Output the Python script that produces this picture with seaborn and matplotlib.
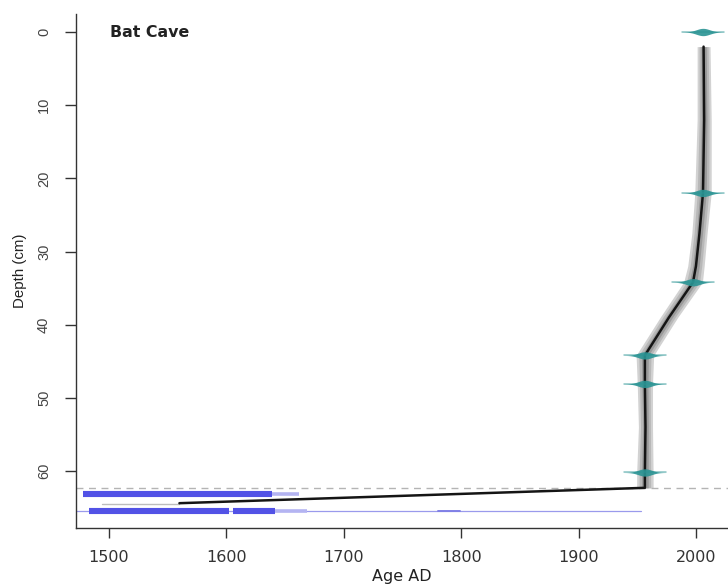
import numpy as np
import matplotlib
matplotlib.use("Agg")
import matplotlib.pyplot as plt
import seaborn as sns

# --- dated levels (depth in cm, mean age AD, 1-sigma in years) ---
date_depth = [0.0, 22.0, 34.2, 44.2, 48.1, 60.2]
date_age = [2006.0, 2006.0, 1997.5, 1956.5, 1956.5, 1956.5]
date_sd = [5.0, 5.0, 5.0, 5.0, 5.0, 5.0]

# --- age-depth model (mean age and half-width of the grey envelope) ---
model_depth = [2.0, 12.0, 22.0, 27.5, 32.0, 34.2, 39.0, 44.2, 48.1, 54.0, 60.2, 62.3]
model_age = [2006.5, 2007.0, 2006.0, 2003.0, 2000.0, 1997.5, 1977.0, 1956.5, 1956.5, 1957.0, 1956.5, 1956.5]
model_halfwidth = [5.5, 6.0, 7.0, 6.5, 7.0, 8.0, 7.5, 7.5, 6.5, 6.0, 7.0, 7.0]

# --- extrapolated section below the boundary ---
extrap_depth = [62.3, 64.4]
extrap_age = [1956.5, 1560.0]
tail_depth = 64.45
tail_age = [1494.0, 1560.0]

boundary_depth = 62.3

# --- calibrated radiocarbon ranges (depth, ranges as (from, to) AD) ---
c14_depth = [63.2, 65.5]
c14_hpd = [[(1478.0, 1638.5)], [(1483.0, 1602.0), (1606.0, 1641.5)]]
c14_outer = [[(1638.5, 1662.0)], [(1641.5, 1669.0)]]
c14_full = [None, (1472.0, 1953.0)]
c14_minor = [None, (1780.0, 1799.0)]

x_ticks = [1500, 1600, 1700, 1800, 1900, 2000]
y_ticks = [0, 10, 20, 30, 40, 50, 60]

sns.set_theme(style="white")
plt.rcParams["font.family"] = ["DejaVu Sans"]

fig = plt.figure(figsize=(7.28, 5.86), dpi=100)
ax = fig.add_axes([76 / 728, 58 / 586, 652 / 728, 514 / 586])

teal = "#2a9494"
blue = "#5252e6"
axis_col = "#333333"

# grey envelope around the model, shaded darker towards the mean
md = np.array(model_depth)
ma = np.array(model_age)
mh = np.array(model_halfwidth)
ax.fill_betweenx(md, ma - mh, ma + mh, color="#d2d2d2", lw=0, zorder=1)
ax.fill_betweenx(md, ma - 0.7 * mh, ma + 0.7 * mh, color="#b8b8b8", lw=0, zorder=1.1)
ax.fill_betweenx(md, ma - 0.4 * mh, ma + 0.4 * mh, color="#9a9a9a", lw=0, zorder=1.2)

# mean model line through the dated section and the extrapolation
line_age = model_age + extrap_age[1:]
line_depth = model_depth + extrap_depth[1:]
sns.lineplot(x=line_age, y=line_depth, sort=False, estimator=None,
             color="#151515", lw=1.8, ax=ax, zorder=3)
ax.plot(tail_age, [tail_depth, tail_depth], color="#bdbdbd", lw=1.0, zorder=2)

# boundary depth
ax.axhline(boundary_depth, color="#b4b4b4", lw=1.0, ls=(0, (5, 4)), zorder=1)

# dated levels drawn as symmetric density shapes
for d, m, s in zip(date_depth, date_age, date_sd):
    xs = np.linspace(m - 3.6 * s, m + 3.6 * s, 200)
    dens = np.exp(-0.5 * ((xs - m) / (1.15 * s)) ** 2)
    ax.fill_between(xs, d - 0.5 * dens, d + 0.5 * dens, color=teal,
                    alpha=0.9, lw=0, zorder=4)
    ax.plot([xs[0], xs[-1]], [d, d], color=teal, alpha=0.55, lw=1.1, zorder=4)

# calibrated radiocarbon ranges
for d, hpd, outer, full, minor in zip(c14_depth, c14_hpd, c14_outer, c14_full, c14_minor):
    if full is not None:
        ax.plot(full, [d, d], color="#9a9aec", lw=0.9, zorder=2)
    if minor is not None:
        ax.plot(minor, [d, d], color="#8080e6", lw=1.4, zorder=2)
    for a, b in outer:
        ax.plot([a, b], [d, d], color="#b4b4f2", lw=2.6, solid_capstyle="butt", zorder=2)
    for a, b in hpd:
        ax.plot([a, b], [d, d], color=blue, lw=4.4, solid_capstyle="butt", zorder=2.5)

ax.set_xlim(1471.9, 2027.3)
ax.set_ylim(67.79, -2.46)
ax.set_xticks(x_ticks)
ax.set_yticks(y_ticks)

for side in ["top", "right"]:
    ax.spines[side].set_visible(False)
for side in ["left", "bottom"]:
    ax.spines[side].set_color(axis_col)
    ax.spines[side].set_linewidth(1.0)

ax.tick_params(axis="x", direction="out", length=7, width=1.0, color=axis_col,
               labelsize=11.5, labelcolor="#333333", pad=9, bottom=True)
ax.tick_params(axis="y", direction="out", length=8, width=1.0, color=axis_col,
               labelsize=10.5, labelcolor="#444444", pad=10, left=True, labelrotation=90)
for lab in ax.get_yticklabels():
    lab.set_fontfamily(["Liberation Sans", "DejaVu Sans"])
    lab.set_va("center")

ax.set_xlabel("Age AD", fontsize=11.5, color="#222222", labelpad=3)
ax.set_ylabel("Depth (cm)", fontsize=10.8, color="#222222", labelpad=7,
              family=["Liberation Sans", "DejaVu Sans"])
ax.grid(False)

ax.text(0.052, 0.964, "Bat Cave", transform=ax.transAxes, fontsize=11.4,
        fontweight="bold", color="#222222", ha="left", va="center")

fig.savefig("out.png", dpi=100)
